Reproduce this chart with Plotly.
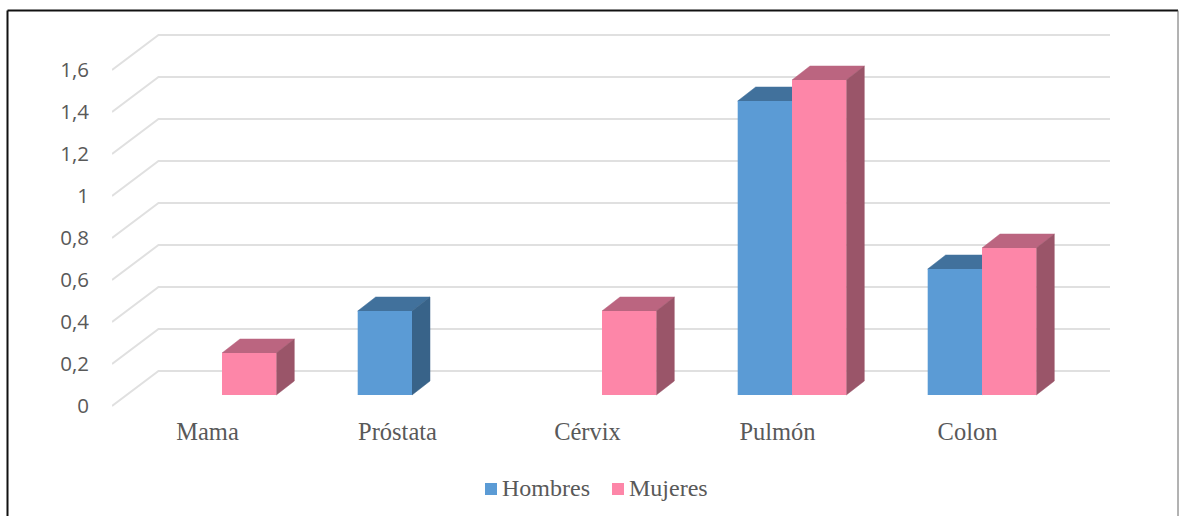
import plotly.graph_objects as go

# Chart values
categories = ["Mama", "Próstata", "Cérvix", "Pulmón", "Colon"]
series_names = ["Hombres", "Mujeres"]
hombres = [None, 0.4, None, 1.4, 0.6]
mujeres = [0.2, None, 0.4, 1.5, 0.7]
y_ticks = [0, 0.2, 0.4, 0.6, 0.8, 1, 1.2, 1.4, 1.6]
y_tick_text = ["0", "0,2", "0,4", "0,6", "0,8", "1", "1,2", "1,4", "1,6"]

W, H = 1179, 516
# Plot box in page pixels and the pixel scale of the value axes
LEFT, RIGHT, TOP, BOTTOM = 112, 1110, 34, 412
PX_X, PX_Y = 190.0, 210.0
X0_PX, Y0_PX = 222, 395

x_range = [(LEFT - X0_PX) / PX_X, (RIGHT - X0_PX) / PX_X]
y_range = [(Y0_PX - BOTTOM) / PX_Y, (Y0_PX - TOP) / PX_Y]
x_domain = [LEFT / W, RIGHT / W]
y_domain = [(H - BOTTOM) / H, (H - TOP) / H]

BAR_W = 54.3 / PX_X
# Oblique offsets of the bar depth and of the floor/wall
DEPTH_X, DEPTH_Y = 18 / PX_X, 14 / PX_Y
WALL_FRONT_Y = (Y0_PX - 406) / PX_Y
WALL_BACK_X = 46.5 / PX_X
WALL_BACK_Y = (Y0_PX - 371) / PX_Y

GRID = "#e0e0e0"
TEXT = "#595959"
BLUE, BLUE_TOP, BLUE_SIDE = "#5b9bd5", "#41719c", "#386389"
PINK, PINK_TOP, PINK_SIDE = "#fd86a8", "#bb6580", "#9a5569"

fig = go.Figure()

# Wall gridlines with their oblique run to the front edge
for v in y_ticks:
    fig.add_trace(go.Scatter(
        x=[x_range[0], x_range[0] + WALL_BACK_X, x_range[1]],
        y=[v + WALL_FRONT_Y, v + WALL_BACK_Y, v + WALL_BACK_Y],
        mode="lines", line=dict(color=GRID, width=2),
        hoverinfo="skip", showlegend=False,
    ))


def add_depth_faces(values, left_offset, top_color, side_color):
    """Top and side faces of each bar, derived from its value."""
    top_x, top_y, side_x, side_y = [], [], [], []
    for i, v in enumerate(values):
        if v is None:
            continue
        xl = i + left_offset
        xr = xl + BAR_W
        top_x += [xl, xr, xr + DEPTH_X, xl + DEPTH_X, xl, None]
        top_y += [v, v, v + DEPTH_Y, v + DEPTH_Y, v, None]
        side_x += [xr, xr + DEPTH_X, xr + DEPTH_X, xr, xr, None]
        side_y += [0, DEPTH_Y, v + DEPTH_Y, v, 0, None]
    for xs, ys, color in ((top_x, top_y, top_color), (side_x, side_y, side_color)):
        fig.add_trace(go.Scatter(
            x=xs, y=ys, mode="lines", fill="toself", fillcolor=color,
            line=dict(color=color, width=0.5), hoverinfo="skip", showlegend=False,
        ))


add_depth_faces(hombres, -BAR_W, BLUE_TOP, BLUE_SIDE)
add_depth_faces(mujeres, 0, PINK_TOP, PINK_SIDE)

# Front faces sit on an overlaying axis pair so they cover the neighbouring depth faces
x_pos = list(range(len(categories)))
fig.add_trace(go.Bar(name=series_names[0], x=x_pos, y=hombres, marker=dict(color=BLUE, line_width=0),
                     xaxis="x2", yaxis="y2", showlegend=False))
fig.add_trace(go.Bar(name=series_names[1], x=x_pos, y=mujeres, marker=dict(color=PINK, line_width=0),
                     xaxis="x2", yaxis="y2", showlegend=False))


def line_shape(x0, y0, x1, y1, color, width):
    return dict(type="line", xref="paper", yref="paper",
                x0=x0 / W, y0=1 - y0 / H, x1=x1 / W, y1=1 - y1 / H,
                line=dict(color=color, width=width))


# Outer frame, open along the bottom
shapes = [
    line_shape(7.5, 10.5, 1178, 10.5, "#111111", 2),
    line_shape(7.5, 10.5, 7.5, 516, "#111111", 2),
    line_shape(1178, 10.5, 1178, 516, "#666666", 1),
]

# Compact legend row: swatch followed closely by its label
annotations = []
for name, color, swatch_left in zip(series_names, (BLUE, PINK), (485, 612)):
    shapes.append(dict(type="rect", xref="paper", yref="paper",
                       x0=swatch_left / W, x1=(swatch_left + 12) / W,
                       y0=1 - 495 / H, y1=1 - 483 / H,
                       fillcolor=color, line_width=0))
    annotations.append(dict(text=name, xref="paper", yref="paper",
                            x=(swatch_left + 15) / W, y=1 - 488 / H,
                            xanchor="left", yanchor="middle", showarrow=False,
                            font=dict(family="Liberation Serif", size=24, color=TEXT)))

fig.update_layout(
    width=W, height=H, autosize=False,
    margin=dict(l=0, r=0, t=0, b=0, pad=0, autoexpand=False),
    paper_bgcolor="white", plot_bgcolor="white",
    barmode="group", bargap=1 - 2 * BAR_W, bargroupgap=0,
    shapes=shapes, annotations=annotations, showlegend=False,
    xaxis=dict(
        domain=x_domain, range=x_range, showgrid=False, zeroline=False, showline=False,
        tickmode="array", tickvals=[i - 14.5 / PX_X for i in x_pos], ticktext=categories,
        ticks="", ticklabelstandoff=2, automargin=False,
        tickfont=dict(family="Liberation Serif", size=24.5, color=TEXT),
    ),
    yaxis=dict(
        domain=y_domain, range=y_range, showgrid=False, zeroline=False, showline=False,
        tickmode="array", tickvals=[v + WALL_FRONT_Y for v in y_ticks], ticktext=y_tick_text,
        ticks="", ticklabelstandoff=22, automargin=False,
        tickfont=dict(family="Open Sans", size=20.5, color=TEXT),
    ),
    xaxis2=dict(domain=x_domain, range=x_range, overlaying="x", visible=False),
    yaxis2=dict(domain=y_domain, range=y_range, overlaying="y", visible=False),
)

fig.write_html("out.html", config={"displayModeBar": False}, default_width="1179px", default_height="516px")
